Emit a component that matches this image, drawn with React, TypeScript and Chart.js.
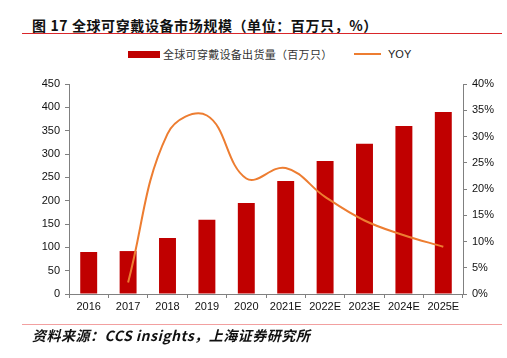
import React, { useEffect, useRef } from "react";
import { Chart, registerables } from "chart.js";

Chart.register(...registerables);

const categories = ["2016", "2017", "2018", "2019", "2020", "2021E", "2022E", "2023E", "2024E", "2025E"];
const shipments = [90, 92, 120, 159, 195, 242, 285, 322, 360, 390];
const yoy = [null, 2.2, 30.5, 34.0, 22.0, 24.0, 18.5, 14.0, 11.2, 9.0];
const leftTicks = [0, 50, 100, 150, 200, 250, 300, 350, 400, 450];
const rightTicks = [0, 5, 10, 15, 20, 25, 30, 35, 40];

const TICK_FONT = "'Liberation Sans', Arial, sans-serif";
const CJK_FONT = "'Noto Sans CJK SC', 'Liberation Sans', sans-serif";

export default function App() {
  const ref = useRef<HTMLCanvasElement | null>(null);

  useEffect(() => {
    if (!ref.current) return;
    const chart = new Chart(ref.current, {
      type: "bar",
      data: {
        labels: categories,
        datasets: [
          {
            type: "line",
            label: "YOY",
            data: yoy as any,
            yAxisID: "y1",
            borderColor: "#ED7D31",
            backgroundColor: "#ED7D31",
            borderWidth: 2,
            pointRadius: 0,
            tension: 0.4,
            spanGaps: false,
            order: 0,
          } as any,
          {
            type: "bar",
            label: "全球可穿戴设备出货量（百万只）",
            data: shipments,
            yAxisID: "y",
            backgroundColor: "#C00000",
            borderWidth: 0,
            barPercentage: 0.43,
            categoryPercentage: 1,
            order: 1,
          },
        ],
      },
      options: {
        responsive: false,
        animation: false,
        layout: { padding: { top: 84, left: 0, right: 0, bottom: 0 } },
        plugins: { legend: { display: false }, tooltip: { enabled: false } },
        scales: {
          x: {
            grid: {
              display: true,
              drawOnChartArea: false,
              drawTicks: true,
              tickLength: 4,
              color: "#808080",
              offset: true,
            },
            border: { display: true, color: "#808080", width: 1 },
            ticks: {
              color: "#111",
              font: { family: TICK_FONT, size: 11 },
              padding: 2,
              maxRotation: 0,
              autoSkip: false,
            },
            afterFit: (s: any) => {
              s.height = 64;
            },
          },
          y: {
            position: "left",
            min: 0,
            max: 450,
            afterBuildTicks: (s: any) => {
              s.ticks = leftTicks.map((v) => ({ value: v }));
            },
            grid: {
              display: true,
              drawOnChartArea: false,
              drawTicks: true,
              tickLength: 4,
              color: "#808080",
            },
            border: { display: true, color: "#808080", width: 1 },
            ticks: {
              color: "#111",
              font: { family: TICK_FONT, size: 11 },
              padding: 5,
            },
            afterFit: (s: any) => {
              s.width = 69;
            },
          },
          y1: {
            position: "right",
            min: 0,
            max: 40,
            afterBuildTicks: (s: any) => {
              s.ticks = rightTicks.map((v) => ({ value: v }));
            },
            grid: {
              display: true,
              drawOnChartArea: false,
              drawTicks: true,
              tickLength: 4,
              color: "#808080",
            },
            border: { display: true, color: "#808080", width: 1 },
            ticks: {
              color: "#111",
              font: { family: TICK_FONT, size: 11 },
              padding: 5,
              callback: (v: any) => v + "%",
            },
            afterFit: (s: any) => {
              s.width = 44;
            },
          },
        },
      },
    });
    return () => chart.destroy();
  }, []);

  return (
    <div style={{ position: "absolute", left: 0, top: 0, width: 507, height: 358, background: "#fff", overflow: "hidden" }}>
      <div
        style={{
          position: "absolute",
          left: 32,
          top: 17,
          fontFamily: CJK_FONT,
          fontWeight: "bold",
          fontSize: 14,
          lineHeight: "16px",
          letterSpacing: "0.6px",
          color: "#111",
          whiteSpace: "nowrap",
        }}
      >
        图 17 全球可穿戴设备市场规模（单位：百万只，%）
      </div>
      <div style={{ position: "absolute", left: 22, top: 33, width: 480, height: 1, background: "#D9262A" }} />
      <div style={{ position: "absolute", left: 128, top: 51, width: 32, height: 7, background: "#C00000" }} />
      <div
        style={{
          position: "absolute",
          left: 163,
          top: 46,
          fontFamily: CJK_FONT,
          fontSize: 11,
          lineHeight: "16px",
          letterSpacing: "0.3px",
          color: "#333",
          whiteSpace: "nowrap",
        }}
      >
        全球可穿戴设备出货量（百万只）
      </div>
      <div style={{ position: "absolute", left: 354, top: 53, width: 27, height: 2, background: "#ED7D31" }} />
      <div
        style={{
          position: "absolute",
          left: 388,
          top: 46,
          fontFamily: TICK_FONT,
          fontSize: 11,
          lineHeight: "16px",
          color: "#222",
          whiteSpace: "nowrap",
        }}
      >
        YOY
      </div>
      <canvas ref={ref} width={507} height={358} style={{ position: "absolute", left: 0, top: 0, width: 507, height: 358 }} />
      <div style={{ position: "absolute", left: 22, top: 324, width: 480, height: 1, background: "#F2A0A0" }} />
      <div
        style={{
          position: "absolute",
          left: 32,
          top: 327,
          fontFamily: CJK_FONT,
          fontWeight: "bold",
          fontStyle: "italic",
          fontSize: 14,
          lineHeight: "16px",
          letterSpacing: "0.5px",
          color: "#111",
          whiteSpace: "nowrap",
        }}
      >
        资料来源：CCS insights，上海证券研究所
      </div>
    </div>
  );
}
